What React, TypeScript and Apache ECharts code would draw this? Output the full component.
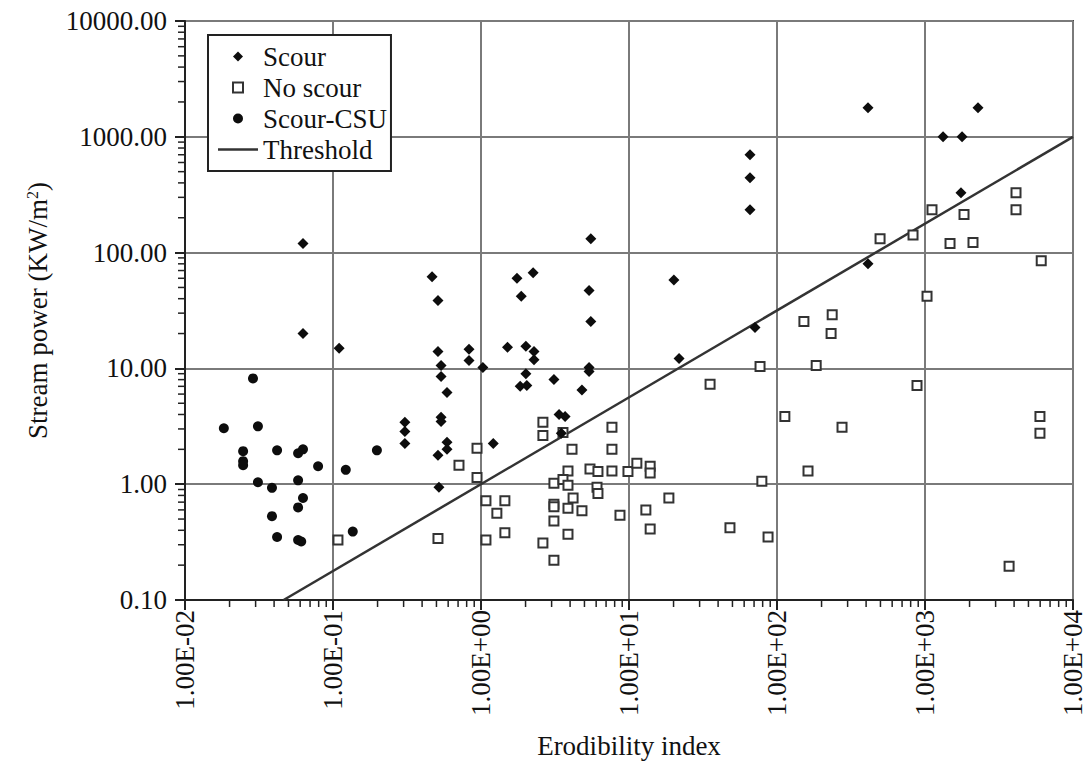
import React, { useEffect, useRef } from "react";
import * as echarts from "echarts";

// Erodibility index (x) vs stream power (y)
const scourPts: [number, number][] = [
  [0.0627, 120], [0.0627, 20], [0.11, 14.9],
  [0.306, 3.43], [0.306, 2.85], [0.306, 2.25],
  [0.467, 62], [0.512, 38.6], [0.512, 14.0], [0.537, 10.6], [0.537, 8.5],
  [0.589, 6.2], [0.537, 3.78], [0.537, 3.48], [0.589, 2.3], [0.589, 2.0],
  [0.512, 1.78], [0.52, 0.94], [0.83, 14.6], [0.83, 11.7], [1.03, 10.2],
  [1.21, 2.25], [1.51, 15.2], [1.75, 60], [1.87, 42], [2.25, 67],
  [2.01, 15.5], [2.28, 14.0], [2.28, 11.9], [2.01, 9.0], [1.84, 7.0],
  [2.04, 7.1], [3.11, 8.0], [4.81, 6.5], [5.37, 10.2], [5.37, 9.4],
  [5.52, 132], [5.37, 47], [5.52, 25.4], [3.37, 4.0], [3.7, 3.85],
  [3.49, 2.75], [20.1, 58], [21.8, 12.2], [71, 22.6], [65.7, 700],
  [65.7, 443], [65.7, 235], [412, 80], [412, 1780], [2280, 1780],
  [1324, 1000], [1780, 1000], [1750, 329],
];

const csuPts: [number, number][] = [
  [0.0183, 3.04], [0.0247, 1.93], [0.0247, 1.58], [0.0247, 1.46],
  [0.0288, 8.2], [0.0311, 3.16], [0.0311, 1.04], [0.0387, 0.93],
  [0.0387, 0.53], [0.0419, 1.96], [0.0419, 0.35], [0.0581, 1.85],
  [0.0627, 2.0], [0.0581, 1.08], [0.0627, 0.76], [0.0581, 0.63],
  [0.0581, 0.33], [0.061, 0.32], [0.0793, 1.43], [0.122, 1.33],
  [0.136, 0.39], [0.198, 1.96],
];

const noScourPts: [number, number][] = [
  [0.108, 0.33], [0.512, 0.34], [0.71, 1.46], [0.94, 2.04], [0.94, 1.14],
  [1.08, 0.72], [1.45, 0.72], [1.28, 0.56], [1.45, 0.38], [1.08, 0.33],
  [2.62, 3.43], [2.62, 2.64], [3.58, 2.8], [4.12, 2.0], [7.67, 3.1],
  [7.67, 2.0], [3.87, 1.3], [5.45, 1.35], [6.17, 1.29], [7.67, 1.3],
  [9.84, 1.29], [11.3, 1.52], [13.9, 1.43], [13.9, 1.25], [3.11, 1.02],
  [3.58, 1.1], [3.87, 0.98], [6.08, 0.94], [6.17, 0.83], [4.19, 0.76],
  [3.11, 0.67], [3.11, 0.64], [3.87, 0.62], [4.81, 0.59], [3.11, 0.48],
  [3.87, 0.37], [2.62, 0.31], [3.11, 0.22], [8.69, 0.54], [13.0, 0.6],
  [13.9, 0.41], [18.6, 0.76], [35.3, 7.3], [76.8, 10.4], [79, 1.06],
  [48.1, 0.42], [87, 0.35], [113, 3.85], [162, 1.3], [152, 25.4],
  [236, 29], [232, 20], [184, 10.6], [275, 3.1], [883, 7.1], [1032, 42],
  [497, 132], [830, 142], [1476, 120], [2110, 122], [1115, 235],
  [1835, 213], [4120, 329], [4120, 235], [6100, 85], [5980, 3.85],
  [5980, 2.75], [3700, 0.196],
];

const thresholdPts: [number, number][] = [
  [0.0464, 0.1],
  [10000, 1000],
];

const X_MIN = 0.01;
const X_MAX = 10000;
const Y_MIN = 0.1;
const Y_MAX = 10000;
const xDecades = [0.01, 0.1, 1, 10, 100, 1000];
const yDecades = [0.1, 1, 10, 100, 1000];
const minorMultiples = [2, 3, 4, 5, 6, 7, 8, 9];

const FONT = "'Liberation Serif', 'Times New Roman', serif";
const TXT = "#111111";

const ICON_DIAMOND = "path://M0,-5L5,0L0,5L-5,0Z";
const ICON_SQUARE = "path://M-4,-4H4V4H-4Z";
const ICON_CIRCLE = "path://M-5,0A5,5,0,1,0,5,0A5,5,0,1,0,-5,0Z";
const ICON_LINE = "path://M0,0H40V2.5H0Z";

export default function App() {
  const ref = useRef<HTMLDivElement>(null);

  useEffect(() => {
    if (!ref.current) return;
    const chart = echarts.init(ref.current, undefined, { renderer: "svg" });

    const xMinor = xDecades.flatMap((d) => minorMultiples.map((m) => [d * m, Y_MIN]));
    const yMinor = yDecades.flatMap((d) => minorMultiples.map((m) => [X_MIN, d * m]));

    const fmtX = (v: number) => {
      const e = Math.round(Math.log10(v));
      const s = e < 0 ? "-" : "+";
      return `1.00E${s}${String(Math.abs(e)).padStart(2, "0")}`;
    };

    chart.setOption({
      animation: false,
      backgroundColor: "#ffffff",
      textStyle: { fontFamily: FONT, color: TXT },
      grid: {
        left: 185,
        right: 19,
        top: 21,
        bottom: 171,
        show: true,
        borderColor: "#444",
        borderWidth: 2,
        backgroundColor: "transparent",
      },
      legend: {
        orient: "vertical",
        left: 208,
        top: 35,
        padding: [8, 4, 8, 10],
        itemGap: 4,
        itemWidth: 40,
        itemHeight: 10,
        symbolKeepAspect: true,
        backgroundColor: "#ffffff",
        borderColor: "#222",
        borderWidth: 2,
        borderRadius: 0,
        textStyle: { fontFamily: FONT, fontSize: 27, color: TXT },
        data: [
          { name: "Scour", icon: ICON_DIAMOND },
          { name: "No scour", icon: ICON_SQUARE },
          { name: "Scour-CSU", icon: ICON_CIRCLE },
          { name: "Threshold", icon: ICON_LINE, itemStyle: { color: "#333", borderWidth: 0 } },
        ],
        z: 20,
      },
      xAxis: {
        type: "log",
        logBase: 10,
        min: X_MIN,
        max: X_MAX,
        name: "Erodibility index",
        nameLocation: "middle",
        nameGap: 132,
        nameTextStyle: { fontFamily: FONT, fontSize: 27, color: TXT },
        axisLine: { show: true, lineStyle: { color: "#222", width: 2 } },
        axisTick: { show: true, length: 10, lineStyle: { color: "#222", width: 2 } },
        axisLabel: {
          rotate: 90,
          margin: 10,
          fontFamily: FONT,
          fontSize: 27,
          color: TXT,
          formatter: fmtX,
        },
        splitLine: { show: true, lineStyle: { color: "#7a7a7a", width: 2 } },
      },
      yAxis: {
        type: "log",
        logBase: 10,
        min: Y_MIN,
        max: Y_MAX,
        name: "Stream power (KW/m{sup|2})",
        nameLocation: "middle",
        nameGap: 133,
        nameRotate: 90,
        nameTextStyle: {
          fontFamily: FONT,
          fontSize: 27,
          color: TXT,
          rich: {
            sup: { fontFamily: FONT, fontSize: 16, color: TXT, verticalAlign: "top", padding: [0, 0, 12, 0] },
          },
        },
        axisLine: { show: true, lineStyle: { color: "#222", width: 2 } },
        axisTick: { show: true, length: 10, lineStyle: { color: "#222", width: 2 } },
        axisLabel: {
          margin: 18,
          fontFamily: FONT,
          fontSize: 27,
          color: TXT,
          formatter: (v: number) => v.toFixed(2),
        },
        splitLine: { show: true, lineStyle: { color: "#7a7a7a", width: 2 } },
      },
      series: [
        {
          name: "Scour",
          type: "scatter",
          symbol: "diamond",
          symbolSize: 11,
          itemStyle: { color: "#0d0d0d", opacity: 1 },
          data: scourPts,
          z: 5,
        },
        {
          name: "No scour",
          type: "scatter",
          symbol: "rect",
          symbolSize: 9,
          itemStyle: { color: "#ffffff", borderColor: "#333", borderWidth: 2, opacity: 1 },
          data: noScourPts,
          z: 4,
        },
        {
          name: "Scour-CSU",
          type: "scatter",
          symbol: "circle",
          symbolSize: 10,
          itemStyle: { color: "#0d0d0d", opacity: 1 },
          data: csuPts,
          z: 5,
        },
        {
          name: "Threshold",
          type: "line",
          symbol: "none",
          lineStyle: { color: "#333", width: 2.5 },
          itemStyle: { color: "#333" },
          data: thresholdPts,
          z: 3,
        },
        {
          name: "xMinor",
          type: "custom",
          clip: false,
          silent: true,
          data: xMinor,
          renderItem: (params: any, api: any) => {
            const p = api.coord([api.value(0), api.value(1)]);
            return {
              type: "line",
              shape: { x1: p[0], y1: p[1], x2: p[0], y2: p[1] + 7 },
              style: { stroke: "#222", lineWidth: 1.5 },
            };
          },
          z: 2,
        },
        {
          name: "yMinor",
          type: "custom",
          clip: false,
          silent: true,
          data: yMinor,
          renderItem: (params: any, api: any) => {
            const p = api.coord([api.value(0), api.value(1)]);
            return {
              type: "line",
              shape: { x1: p[0] - 7, y1: p[1], x2: p[0], y2: p[1] },
              style: { stroke: "#222", lineWidth: 1.5 },
            };
          },
          z: 2,
        },
      ],
    });

    return () => chart.dispose();
  }, []);

  return (
    <div
      ref={ref}
      style={{ position: "fixed", left: 0, top: 0, width: 1092, height: 771, background: "#fff" }}
    />
  );
}
